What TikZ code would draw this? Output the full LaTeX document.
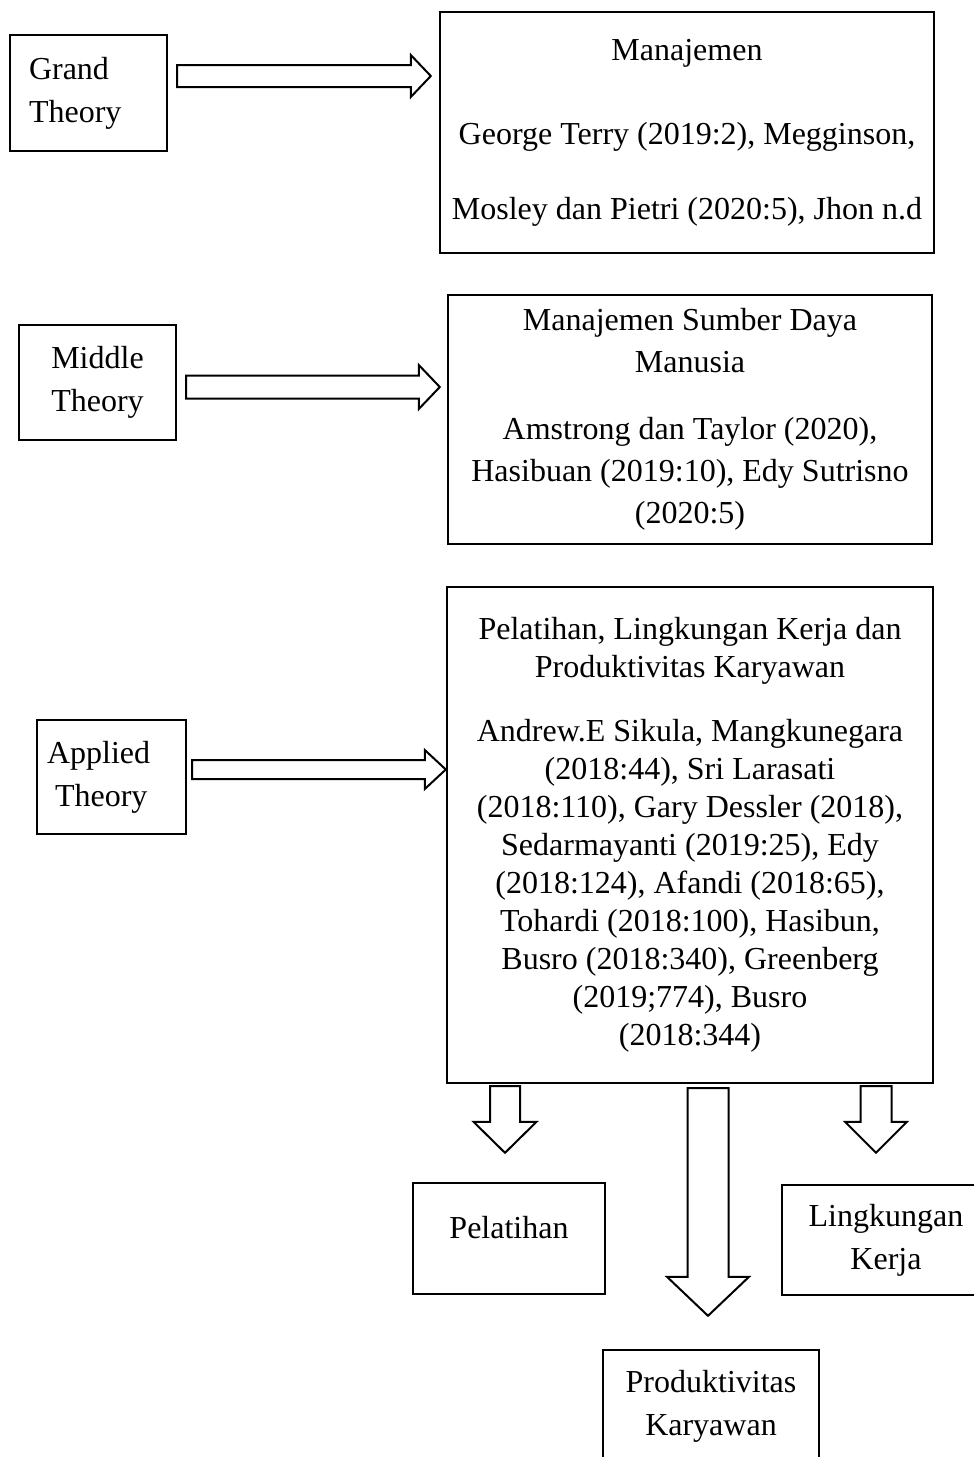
\documentclass[tikz,border=0pt]{standalone}
\usepackage{fontspec}
\setmainfont{Liberation Serif}
\usetikzlibrary{calc}

% hollow block arrow: from, to, shaft half width, head half width, head length
\newcommand{\fatarrow}[5]{%
  \coordinate (hb) at ($(#2)!#5!(#1)$);
  \draw[blockarrow] ($(#1)!#3!90:(#2)$) -- ($(hb)!#3!90:(#2)$) -- ($(hb)!#4!90:(#2)$) -- (#2)
    -- ($(hb)!#4!-90:(#2)$) -- ($(hb)!#3!-90:(#2)$) -- ($(#1)!#3!-90:(#2)$) -- cycle;
}

\begin{document}
\begin{tikzpicture}[x=0.5pt, y=-0.5pt,
    blockarrow/.style={draw, line width=1pt, line join=miter, fill=white}]
\useasboundingbox (0,0) rectangle (974,1457);

\begin{scope}[every node/.style={shape=rectangle,
    draw, line width=1.2pt, align=center, inner sep=0pt,
    font=\fontsize{16pt}{21.5pt}\selectfont}]
    \node[minimum width=78.5pt, minimum height=58pt, text width=59.5pt, align=left, inner xsep=9.5pt] (gt) at (88.5,93) {Grand\\Theory};
    \node[minimum width=78.5pt, minimum height=57.5pt] (mt) at (97.5,382.5) {Middle\\Theory};
    \node[minimum width=74.5pt, minimum height=57pt, text width=64.5pt, align=left, inner xsep=5pt] (at) at (111.5,777) {Applied\\\hspace*{4pt}Theory};
    \node[minimum width=96pt, minimum height=55.5pt, text depth=11pt] (pel) at (509,1238.5) {Pelatihan};
    \node[minimum width=104pt, minimum height=55pt] (lk) at (886,1240) {Lingkungan\\Kerja};
    \node[minimum width=108pt, minimum height=56pt] (prod) at (711,1406) {Produktivitas\\Karyawan};
\end{scope}

\begin{scope}[every node/.style={shape=rectangle,
    draw, line width=1.2pt, align=center, inner sep=0pt,
    font=\fontsize{16pt}{19pt}\selectfont}]
    \node[minimum width=247pt, minimum height=120.5pt] (mj) at (687,132.5) {Manajemen\\[23pt]George Terry (2019:2), Megginson,\\[18.5pt]Mosley dan Pietri (2020:5), Jhon n.d};
    \node[minimum width=242pt, minimum height=124.5pt, font=\fontsize{16pt}{21pt}\selectfont] (msdm) at (690,419.5) {Manajemen Sumber Daya\\Manusia\\[12.5pt]Amstrong dan Taylor (2020),\\Hasibuan (2019:10), Edy Sutrisno\\(2020:5)};
    \node[minimum width=243pt, minimum height=248pt] (plk) at (690,835) {Pelatihan, Lingkungan Kerja dan\\Produktivitas Karyawan\\[13pt]Andrew.E Sikula, Mangkunegara\\(2018:44), Sri Larasati\\(2018:110), Gary Dessler (2018),\\Sedarmayanti (2019:25), Edy\\(2018:124), Afandi (2018:65),\\Tohardi (2018:100), Hasibun,\\Busro (2018:340), Greenberg\\(2019;774), Busro\\(2018:344)};
\end{scope}

% theory -> box
\coordinate (a1) at ($(gt.east)+(4.5pt,8.5pt)$);
\coordinate (a1t) at ($(a1 -| mj.west)+(-4pt,0pt)$);
\fatarrow{a1}{a1t}{5.5pt}{10.5pt}{10pt}
\coordinate (a2) at ($(mt.east)+(4.5pt,-2.25pt)$);
\coordinate (a2t) at ($(a2 -| msdm.west)+(-3.5pt,0pt)$);
\fatarrow{a2}{a2t}{5.75pt}{11pt}{10.5pt}
\coordinate (a3) at ($(at.east)+(2.5pt,3.75pt)$);
\coordinate (a3t) at (a3 -| plk.west);
\fatarrow{a3}{a3t}{4.75pt}{9.75pt}{10.5pt}

% box -> variables
\coordinate (b1) at ($(plk.south)+(-92.5pt,-1pt)$);
\coordinate (b1t) at ($(b1 |- pel.north)+(0pt,14.5pt)$);
\fatarrow{b1}{b1t}{7.5pt}{15.75pt}{15.5pt}
\coordinate (b2) at ($(plk.south)+(9pt,-2pt)$);
\coordinate (b2t) at ($(b2 |- prod.north)+(0pt,16.5pt)$);
\fatarrow{b2}{b2t}{10.25pt}{20.5pt}{19.5pt}
\coordinate (b3) at ($(plk.south)+(93pt,-1pt)$);
\coordinate (b3t) at ($(b3 |- lk.north)+(0pt,15.5pt)$);
\fatarrow{b3}{b3t}{7.75pt}{15.5pt}{15.5pt}
\end{tikzpicture}
\end{document}
